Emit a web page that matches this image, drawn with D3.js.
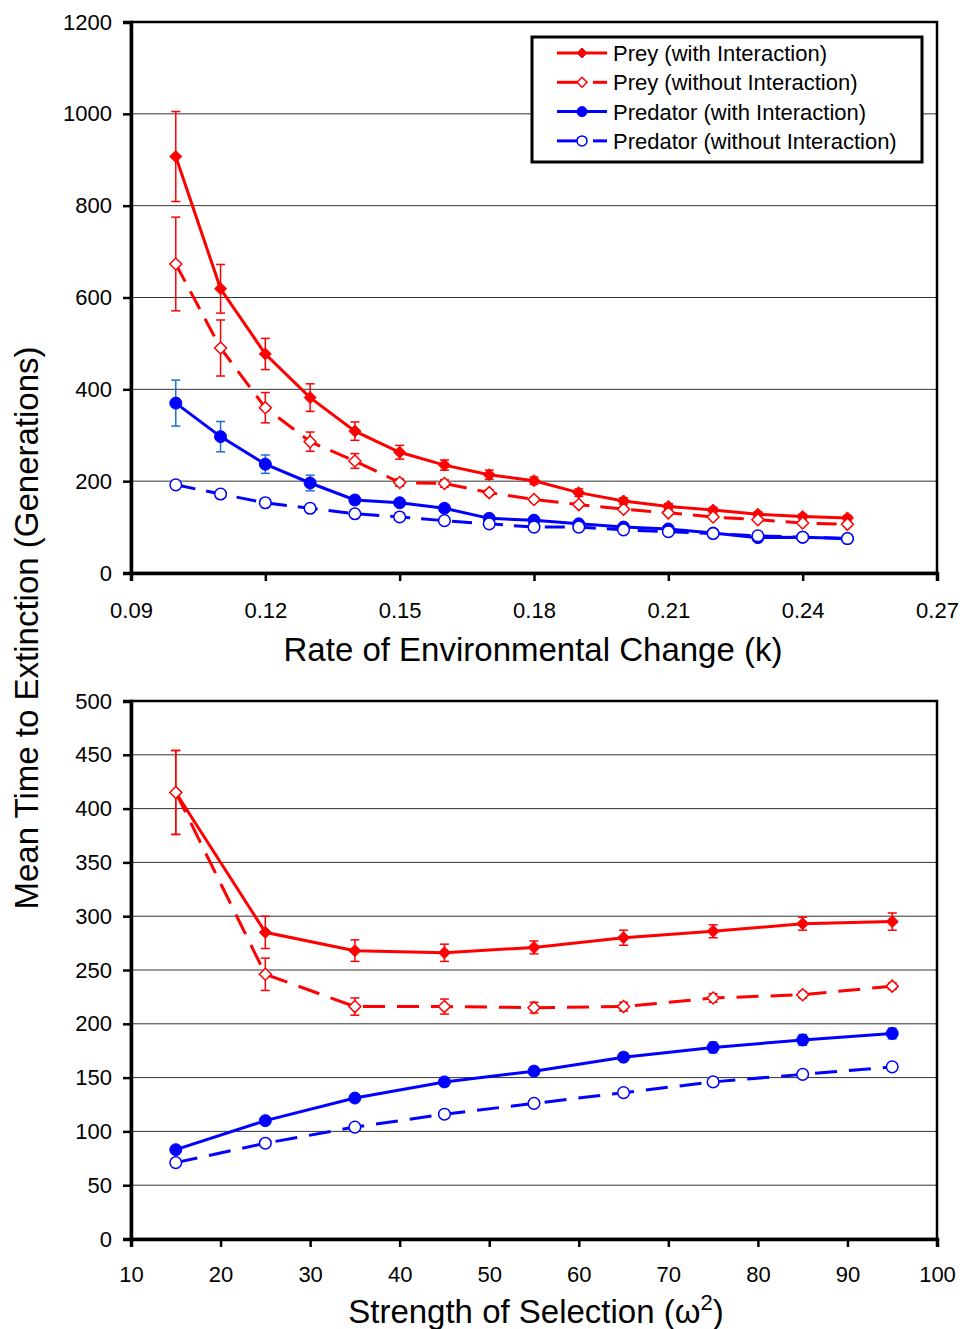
<!DOCTYPE html>
<html>
<head>
<meta charset="utf-8">
<script src="https://cdn.jsdelivr.net/npm/d3@7"></script>
<style>
  body { margin: 0; background: #fff; }
  text { font-family: "Liberation Sans", Arial, sans-serif; }
</style>
</head>
<body>
<div id="chart"></div>
<script>
// Top panel: rate of environmental change
const kValues = [0.10, 0.11, 0.12, 0.13, 0.14, 0.15, 0.16, 0.17, 0.18, 0.19, 0.20, 0.21, 0.22, 0.23, 0.24, 0.25];
const kPreyWith = [907, 619, 477, 382, 309, 263, 235, 214, 201, 175, 157, 145, 137, 128, 123, 120];
const kPreyWithErr = [98, 53, 34, 30, 20, 15, 11, 10, 8, 8, 7, 6, 6, 5, 5, 5];
const kPreyWithout = [673, 490, 360, 286, 244, 197, 195, 175, 160, 149, 139, 131, 122, 116, 109, 106];
const kPreyWithoutErr = [102, 61, 33, 21, 16, 8, 8, 6, 5, 5, 4, 4, 4, 3, 3, 3];
const kPredWith = [370, 297, 237, 196, 159, 153, 141, 119, 115, 107, 100, 96, 87, 77, 78, 75];
const kPredWithErr = [50, 33, 20, 17, 9, 7, 6, 5, 4, 4, 4, 4, 3, 3, 3, 3];
const kPredWithout = [192, 172, 153, 141, 129, 122, 114, 107, 100, 100, 94, 90, 86, 81, 78, 75];
const kPredWithoutErr = [4, 3, 3, 3, 3, 3, 2, 2, 2, 2, 2, 2, 2, 2, 2, 2];
const kTicks = [0.09, 0.12, 0.15, 0.18, 0.21, 0.24, 0.27];
const kYTicks = [0, 200, 400, 600, 800, 1000, 1200];

// Bottom panel: strength of selection
const wValues = [15, 25, 35, 45, 55, 65, 75, 85, 95];
const wPreyWith = [415, 285, 268, 266, 271, 280, 286, 293, 295];
const wPreyWithErr = [39, 15, 10, 8, 6, 7, 6, 6, 8];
const wPreyWithout = [415, 246, 216, 216, 215, 216, 224, 227, 235];
const wPreyWithoutErr = [39, 15, 8, 7, 5, 4, 4, 3, 3];
const wPredWith = [83, 110, 131, 146, 156, 169, 178, 185, 191];
const wPredWithErr = [3, 3, 3, 4, 4, 4, 5, 5, 5];
const wPredWithout = [71, 89, 104, 116, 126, 136, 146, 153, 160];
const wPredWithoutErr = [2, 2, 2, 2, 2, 2, 2, 2, 2];
const wTicks = [10, 20, 30, 40, 50, 60, 70, 80, 90, 100];
const wYTicks = [0, 50, 100, 150, 200, 250, 300, 350, 400, 450, 500];

const seriesNames = ["Prey (with Interaction)", "Prey (without Interaction)",
  "Predator (with Interaction)", "Predator (without Interaction)"];

const red = "#ff0000";
const blue = "#0000ff";
const blueErr = "#1a6fd8";

const svg = d3.select("#chart").append("svg")
  .attr("width", 962)
  .attr("height", 1329);

function diamond(g, x, y, r, filled, color) {
  g.append("path")
    .attr("d", `M${x},${y - r}L${x + r},${y}L${x},${y + r}L${x - r},${y}Z`)
    .attr("fill", filled ? color : "#fff")
    .attr("stroke", color)
    .attr("stroke-width", filled ? 1 : 1.5);
}

function circle(g, x, y, r, filled, color) {
  g.append("circle")
    .attr("cx", x).attr("cy", y).attr("r", r)
    .attr("fill", filled ? color : "#fff")
    .attr("stroke", color)
    .attr("stroke-width", filled ? 1 : 1.5);
}

function drawPanel(opts) {
  const { left, right, top, bottom, xDomain, yDomain, xTicks, yTicks, xFormat, xPad, xs, series, dash } = opts;
  const xScale = d3.scaleLinear().domain(xDomain).range([left, right]);
  const yScale = d3.scaleLinear().domain(yDomain).range([bottom, top]);
  const g = svg.append("g");

  // gridlines
  g.selectAll(".grid")
    .data(yTicks.slice(1, -1))
    .enter()
    .append("line")
    .attr("x1", left).attr("x2", right)
    .attr("y1", (d) => yScale(d)).attr("y2", (d) => yScale(d))
    .attr("stroke", "#333")
    .attr("stroke-width", 1);

  // frame
  g.append("rect")
    .attr("x", left).attr("y", top)
    .attr("width", right - left).attr("height", bottom - top)
    .attr("fill", "none")
    .attr("stroke", "#000")
    .attr("stroke-width", 2.5);

  // axes
  const yAxis = d3.axisLeft(yScale).tickValues(yTicks).tickSize(8).tickPadding(11).tickFormat(d3.format("d"));
  const yg = g.append("g").attr("transform", `translate(${left},0)`).call(yAxis);
  const xAxis = d3.axisBottom(xScale).tickValues(xTicks).tickSize(8).tickPadding(xPad).tickFormat(xFormat);
  const xg = g.append("g").attr("transform", `translate(0,${bottom})`).call(xAxis);
  [yg, xg].forEach((a) => {
    a.select(".domain").attr("stroke", "#000").attr("stroke-width", 3.5);
    a.selectAll(".tick line").attr("stroke", "#000").attr("stroke-width", 2.5);
    a.selectAll("text").attr("font-size", 22).attr("fill", "#000")
      .attr("font-family", "'Liberation Sans', Arial, sans-serif");
  });

  // series
  series.forEach((s) => {
    const pts = xs.map((x, i) => [xScale(x), yScale(s.values[i])]);
    // error bars
    xs.forEach((x, i) => {
      const px = xScale(x);
      const y1 = yScale(s.values[i] + s.err[i]);
      const y2 = yScale(s.values[i] - s.err[i]);
      g.append("line").attr("x1", px).attr("x2", px).attr("y1", y1).attr("y2", y2)
        .attr("stroke", s.errColor).attr("stroke-width", 1.5);
      [y1, y2].forEach((yy) => {
        g.append("line").attr("x1", px - 4.5).attr("x2", px + 4.5).attr("y1", yy).attr("y2", yy)
          .attr("stroke", s.errColor).attr("stroke-width", 1.5);
      });
    });
    g.append("path")
      .attr("d", d3.line()(pts))
      .attr("fill", "none")
      .attr("stroke", s.color)
      .attr("stroke-width", 3)
      .attr("stroke-dasharray", s.dashed ? dash : null);
    pts.forEach(([px, py]) => {
      if (s.shape === "diamond") diamond(g, px, py, 6, s.filled, s.color);
      else circle(g, px, py, s.filled ? 6 : 5.8, s.filled, s.color);
    });
  });
  return g;
}

const topSeries = [
  { values: kPreyWith, err: kPreyWithErr, color: red, errColor: red, shape: "diamond", filled: true, dashed: false },
  { values: kPreyWithout, err: kPreyWithoutErr, color: red, errColor: red, shape: "diamond", filled: false, dashed: true },
  { values: kPredWith, err: kPredWithErr, color: blue, errColor: blueErr, shape: "circle", filled: true, dashed: false },
  { values: kPredWithout, err: kPredWithoutErr, color: blue, errColor: blueErr, shape: "circle", filled: false, dashed: true }
];
const bottomSeries = [
  { values: wPreyWith, err: wPreyWithErr, color: red, errColor: red, shape: "diamond", filled: true, dashed: false },
  { values: wPreyWithout, err: wPreyWithoutErr, color: red, errColor: red, shape: "diamond", filled: false, dashed: true },
  { values: wPredWith, err: wPredWithErr, color: blue, errColor: blueErr, shape: "circle", filled: true, dashed: false },
  { values: wPredWithout, err: wPredWithoutErr, color: blue, errColor: blueErr, shape: "circle", filled: false, dashed: true }
];

drawPanel({
  left: 131, right: 937, top: 22, bottom: 573,
  xDomain: [0.09, 0.27], yDomain: [0, 1200],
  xTicks: kTicks, yTicks: kYTicks, xFormat: d3.format(".2f"), xPad: 21,
  xs: kValues, series: topSeries, dash: "20,11"
});

drawPanel({
  left: 131, right: 937, top: 701, bottom: 1239,
  xDomain: [10, 100], yDomain: [0, 500],
  xTicks: wTicks, yTicks: wYTicks, xFormat: d3.format("d"), xPad: 19,
  xs: wValues, series: bottomSeries, dash: "22,12"
});

// legend
const legend = svg.append("g");
legend.append("rect")
  .attr("x", 532).attr("y", 37).attr("width", 390).attr("height", 125)
  .attr("fill", "#fff").attr("stroke", "#000").attr("stroke-width", 3);
topSeries.forEach((s, i) => {
  const y = 53 + i * 29.3;
  if (s.dashed) {
    legend.append("line").attr("x1", 557).attr("x2", 578).attr("y1", y).attr("y2", y)
      .attr("stroke", s.color).attr("stroke-width", 3);
    legend.append("line").attr("x1", 593).attr("x2", 607).attr("y1", y).attr("y2", y)
      .attr("stroke", s.color).attr("stroke-width", 3);
  } else {
    legend.append("line").attr("x1", 557).attr("x2", 607).attr("y1", y).attr("y2", y)
      .attr("stroke", s.color).attr("stroke-width", 3);
  }
  if (s.shape === "diamond") diamond(legend, 582, y, 5, s.filled, s.color);
  else circle(legend, 582, y, 5, s.filled, s.color);
  legend.append("text").attr("x", 613).attr("y", y).attr("dy", "0.36em")
    .attr("font-size", 22).text(seriesNames[i]);
});

// axis titles
svg.append("text")
  .attr("transform", "translate(38,628) rotate(-90)")
  .attr("text-anchor", "middle")
  .attr("font-size", 33)
  .text("Mean Time to Extinction (Generations)");

svg.append("text")
  .attr("x", 533).attr("y", 661)
  .attr("text-anchor", "middle")
  .attr("font-size", 33)
  .text("Rate of Environmental Change (k)");

const t2 = svg.append("text")
  .attr("x", 536).attr("y", 1323)
  .attr("text-anchor", "middle")
  .attr("font-size", 33)
  .text("Strength of Selection (\u03c9");
t2.append("tspan").attr("dy", -13).attr("font-size", 22).text("2");
t2.append("tspan").attr("dy", 13).text(")");
</script>
</body>
</html>
